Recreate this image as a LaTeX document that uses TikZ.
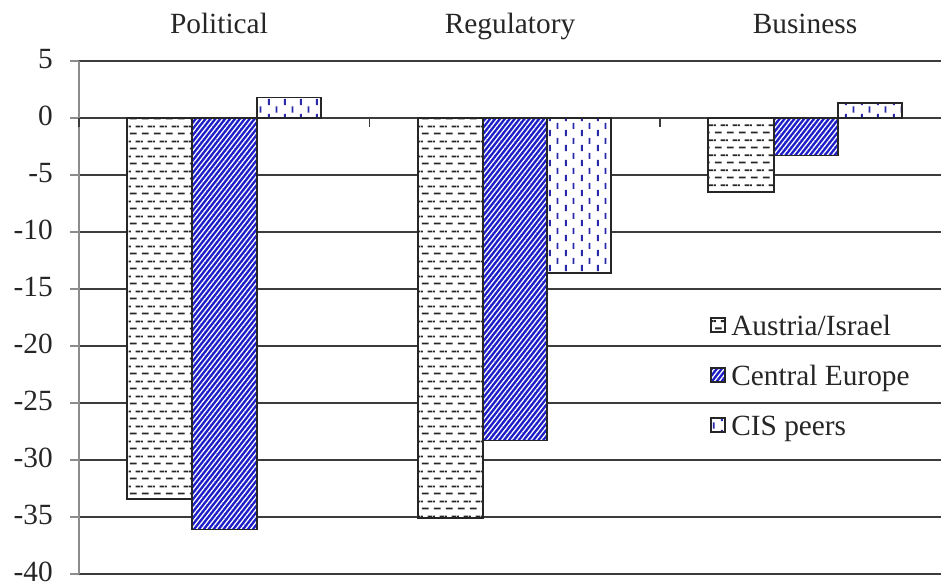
\documentclass[tikz,border=0pt]{standalone}
\usepackage{fontspec}
\setmainfont{Liberation Serif}
\usetikzlibrary{patterns,patterns.meta}

% horizontal dashes, rows staggered
\pgfdeclarepatternformonly{hdash}{\pgfpointorigin}{\pgfpoint{8.78pt}{11.25pt}}{\pgfpoint{8.78pt}{11.25pt}}{%
  \pgfsetlinewidth{1.4pt}%
  \pgfpathmoveto{\pgfpoint{0.75pt}{2.81pt}}\pgfpathlineto{\pgfpoint{5.78pt}{2.81pt}}%
  \pgfpathmoveto{\pgfpoint{5.14pt}{8.44pt}}\pgfpathlineto{\pgfpoint{8.78pt}{8.44pt}}%
  \pgfpathmoveto{\pgfpoint{0pt}{8.44pt}}\pgfpathlineto{\pgfpoint{1.39pt}{8.44pt}}%
  \pgfusepath{stroke}}

% vertical dashes, columns staggered
\pgfdeclarepatternformonly{vdash}{\pgfpointorigin}{\pgfpoint{11.7pt}{11.25pt}}{\pgfpoint{11.7pt}{11.25pt}}{%
  \pgfsetlinewidth{1.4pt}%
  \pgfpathmoveto{\pgfpoint{2.93pt}{0.75pt}}\pgfpathlineto{\pgfpoint{2.93pt}{5.6pt}}%
  \pgfpathmoveto{\pgfpoint{8.78pt}{6.4pt}}\pgfpathlineto{\pgfpoint{8.78pt}{11.25pt}}%
  \pgfusepath{stroke}}

\definecolor{cebl}{RGB}{30,30,200}
\definecolor{cisbl}{RGB}{40,40,170}
\definecolor{gridc}{RGB}{60,60,60}
\definecolor{axc}{RGB}{140,140,140}

\tikzset{
  gridln/.style={draw=gridc, line width=1.2pt},
  axisln/.style={draw=axc, line width=0.9pt},
  lab/.style={font=\fontsize{22}{24}\selectfont, inner sep=0pt, text=black!85},
  aus/.style={fill=white, postaction={pattern=hdash, pattern color=black!85},
              postaction={draw=black!85, line width=1.1pt}},
  cen/.style={fill=cebl, postaction={pattern={Lines[angle=52,distance=2.9pt,line width=0.95pt]}, pattern color=white},
              postaction={draw=black!85, line width=1.1pt}},
  cis/.style={fill=white, postaction={pattern=vdash, pattern color=cisbl},
              postaction={draw=black!85, line width=1.1pt}}
}

\begin{document}
\begin{tikzpicture}[x=0.75pt, y=-0.75pt]
\useasboundingbox (0,0) rectangle (941,586);

% gridlines, y ticks and labels
\foreach \v in {5,0,...,-40} {
  \draw[gridln] (79,{118-11.4*\v}) -- (941,{118-11.4*\v});
  \draw[axisln] (70,{118-11.4*\v}) -- (79,{118-11.4*\v});
  \node[lab, anchor=east] (t\v) at (53,{116-11.4*\v}) {\v};
}
% y axis
\draw[axisln] (79,{118-11.4*5}) -- (79,{118-11.4*(-40)});
% category ticks
\foreach \cx in {79,369.5,660} {
  \draw[gridln] (\cx,118) -- (\cx,127);
}

% category labels
\node[lab, anchor=base] (cpol) at (219,33) {Political};
\node[lab, anchor=base] (creg) at (510,33) {Regulatory};
\node[lab, anchor=base] (cbus) at (805,33) {Business};

% bars: Political
\path[aus] (127,118) rectangle (192,{118-11.4*(-33.4)});
\path[cen] (192,118) rectangle (257,{118-11.4*(-36.1)});
\path[cis] (257,118) rectangle (321,{118-11.4*(1.8)});
% Regulatory
\path[aus] (418,118) rectangle (483,{118-11.4*(-35.1)});
\path[cen] (483,118) rectangle (547,{118-11.4*(-28.3)});
\path[cis] (547,118) rectangle (611,{118-11.4*(-13.6)});
% Business
\path[aus] (708,118) rectangle (774,{118-11.4*(-6.5)});
\path[cen] (774,118) rectangle (838,{118-11.4*(-3.3)});
\path[cis] (838,118) rectangle (902,{118-11.4*(1.3)});

% legend
\path[aus] (711,318) rectangle (725,332);
\node[lab, anchor=base west] (la) at (731,335) {Austria/Israel};
\path[cen] (711,368) rectangle (725,382);
\node[lab, anchor=base west] (lc) at (731,385) {Central Europe};
\path[cis] (711,418) rectangle (725,432);
\node[lab, anchor=base west] (li) at (731,435) {CIS peers};
\end{tikzpicture}
\end{document}
